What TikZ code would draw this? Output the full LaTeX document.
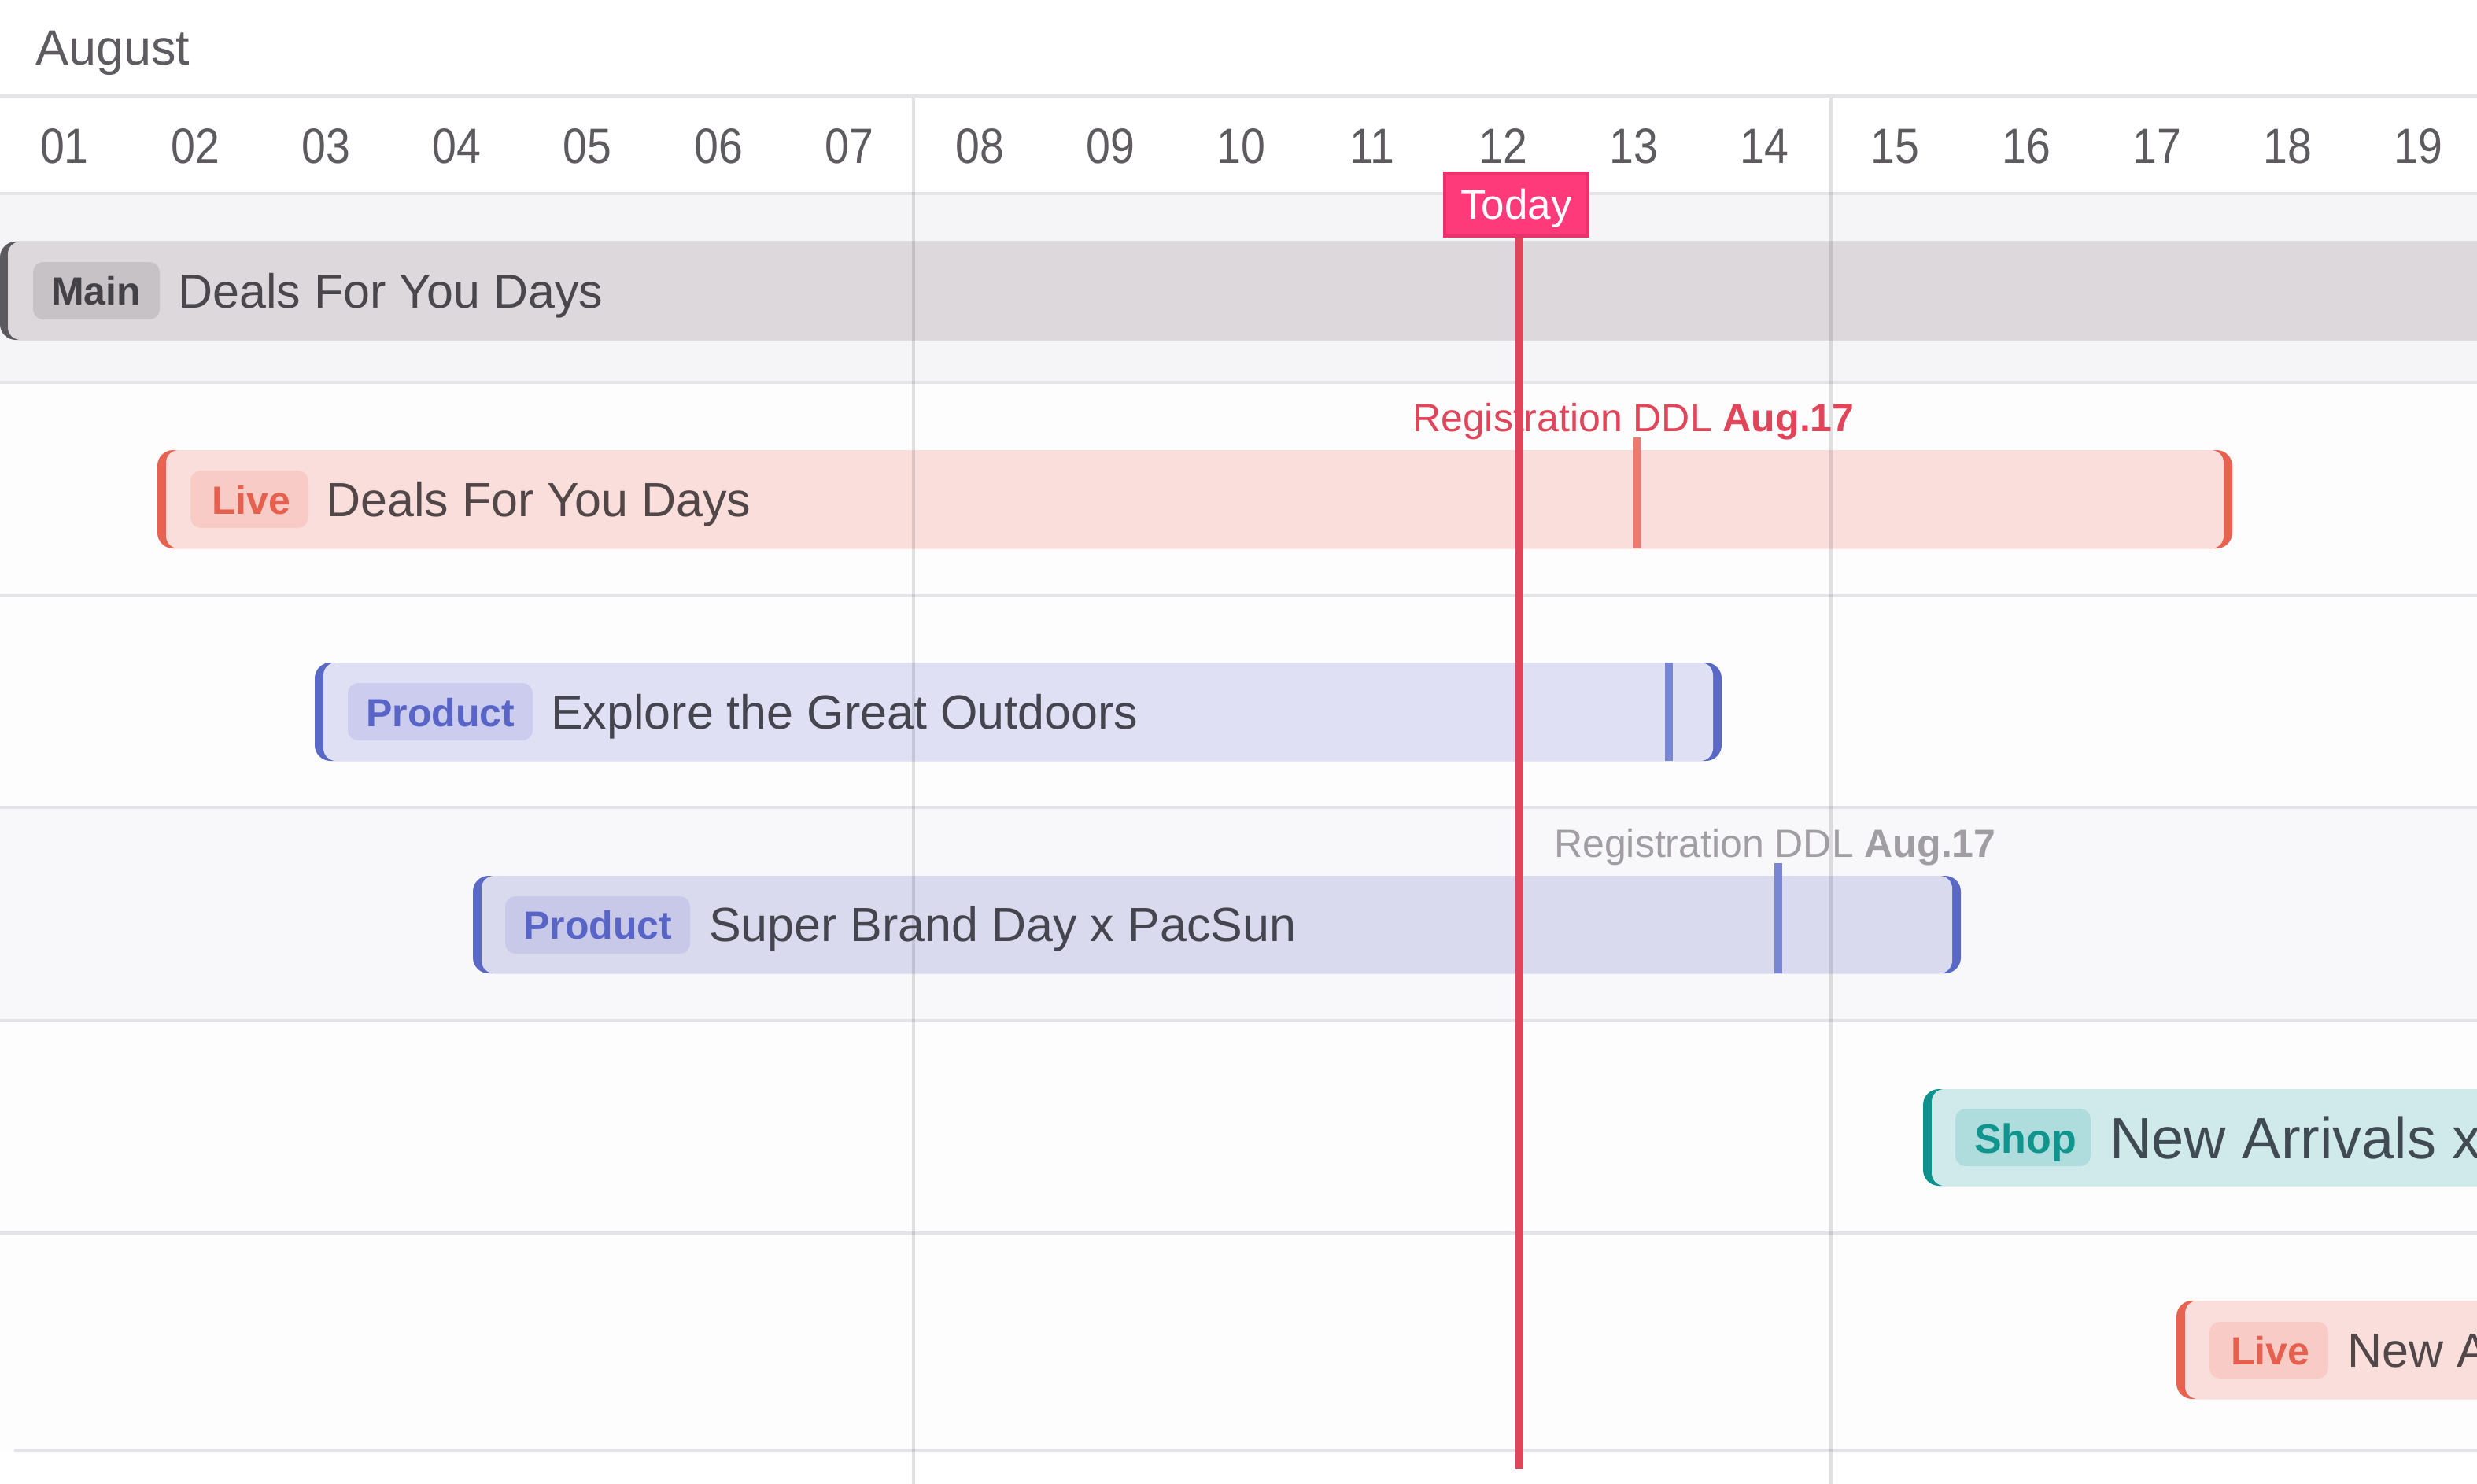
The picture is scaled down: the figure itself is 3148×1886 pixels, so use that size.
\documentclass[tikz,border=0pt]{standalone}
\usepackage{fontspec}
\setmainfont{Liberation Sans}
\newfontfamily\datefont[FakeStretch=0.88]{Liberation Sans}
\definecolor{rowA}{HTML}{F5F4F7}
\definecolor{rowB}{HTML}{F8F7FA}
\definecolor{rowW}{HTML}{FEFDFE}
\definecolor{lineC}{HTML}{E4E3E7}
\definecolor{vlineC}{HTML}{3A3540}
\definecolor{dateC}{HTML}{5D5B5F}
\definecolor{mainA}{HTML}{5B595D}
\definecolor{mainF}{HTML}{DCD8DC}
\definecolor{mainT}{HTML}{C6C2C6}
\definecolor{mainTT}{HTML}{444146}
\definecolor{mainTitle}{HTML}{4A474C}
\definecolor{liveA}{HTML}{E8634F}
\definecolor{liveF}{HTML}{FADEDC}
\definecolor{liveT}{HTML}{F8CBC7}
\definecolor{liveTT}{HTML}{E6604F}
\definecolor{liveTitle}{HTML}{524748}
\definecolor{prodA}{HTML}{5A69C6}
\definecolor{prodF}{HTML}{DFE0F4}
\definecolor{prodFb}{HTML}{D9DAEE}
\definecolor{prodT}{HTML}{CBCCEE}
\definecolor{prodTb}{HTML}{C8C9E8}
\definecolor{prodTT}{HTML}{5865C7}
\definecolor{prodTitle}{HTML}{45454F}
\definecolor{shopA}{HTML}{0E928E}
\definecolor{shopF}{HTML}{D0EAEC}
\definecolor{shopT}{HTML}{AFDDDE}
\definecolor{shopTT}{HTML}{10948E}
\definecolor{shopTitle}{HTML}{3F4A52}
\definecolor{todayF}{HTML}{FF3A7A}
\definecolor{todayB}{HTML}{E8336F}
\definecolor{todayL}{HTML}{E0465A}
\definecolor{ddlRed}{HTML}{E0455A}
\definecolor{ddlGray}{HTML}{A09EA3}
\definecolor{markRed}{HTML}{EC7B6E}
\definecolor{markBlue}{HTML}{7886D4}
\tikzset{
  hline/.style={draw=lineC, line width=4pt},
  vline/.style={draw=vlineC, draw opacity=0.15, line width=4pt},
  daynum/.style={anchor=base, inner sep=0, text=dateC, font=\datefont\fontsize{63}{72}\selectfont},
  bartitle/.style={anchor=base west, inner sep=0, font=\fontsize{61}{72}\selectfont},
  tagtext/.style={anchor=base west, inner sep=0, font=\fontsize{50}{60}\selectfont\bfseries},
  ddltext/.style={anchor=base west, inner sep=0, font=\fontsize{50}{60}\selectfont},
  outer/.style={rounded corners=20pt},
  inner/.style={rounded corners=16pt},
  tagbox/.style={rounded corners=13pt},
  marker/.style={line width=10pt},
}
\begin{document}
\begin{tikzpicture}[x=1pt,y=-1pt]
\useasboundingbox (0,0) rectangle (3148,1886);
\clip (0,0) rectangle (3148,1886);
\fill[white] (0,0) rectangle (3148,1886);
% row backgrounds
\fill[rowA] (0,248) rectangle (3148,486);
\fill[rowW] (0,486) rectangle (3148,1026);
\fill[rowB] (0,1026) rectangle (3148,1297);
\fill[rowW] (0,1297) rectangle (3148,1843);
% horizontal lines
\foreach \yy in {122,246,486,757,1026,1297,1567} \draw[hline] (0,\yy) -- (3148,\yy);
\draw[hline] (18,1843) -- (3148,1843);
% month and days
\node[anchor=base west, inner sep=0, text=dateC, font=\fontsize{63}{72}\selectfont] (month) at (45,83) {August};
\foreach \dd [count=\i from 0] in {01,02,03,04,05,06,07,08,09,10,11,12,13,14,15,16,17,18,19}
  \node[daynum] (day\dd) at ({82+166.2*\i},208) {\dd};
% row 1 : Main
\fill[mainA, outer] (0,307) rectangle (3300,432);
\fill[mainF, inner] (10,307) rectangle (3300,432);
\fill[mainT, tagbox] (42,333) rectangle (203,406);
\node[tagtext, text=mainTT] (tag1) at (65,387) {Main};
\node[bartitle, text=mainTitle] (title1) at (226,391) {Deals For You Days};
% row 2 : Live
\fill[liveA, outer] (200,572) rectangle (2837,697);
\fill[liveF, inner] (211,572) rectangle (2826,697);
\fill[liveT, tagbox] (242,598) rectangle (392,671);
\node[tagtext, text=liveTT] (tag2) at (269,653) {Live};
\node[bartitle, text=liveTitle] (title2) at (414,656) {Deals For You Days};
\draw[marker, markRed, line width=9pt] (2080,556) -- (2080,697);
\node[ddltext, text=ddlRed] (ddl2) at (1795,548) {Registration DDL \textbf{Aug.17}};
% row 3 : Product
\fill[prodA, outer] (400,842) rectangle (2188,967);
\fill[prodF, inner] (411,842) rectangle (2177,967);
\fill[prodT, tagbox] (442,868) rectangle (677,941);
\node[tagtext, text=prodTT] (tag3) at (465,923) {Product};
\node[bartitle, text=prodTitle] (title3) at (700,926) {Explore the Great Outdoors};
\draw[marker, markBlue] (2121,842) -- (2121,967);
% row 4 : Product
\fill[prodA, outer] (601,1113) rectangle (2492,1237);
\fill[prodFb, inner] (612,1113) rectangle (2481,1237);
\fill[prodTb, tagbox] (642,1139) rectangle (877,1212);
\node[tagtext, text=prodTT] (tag4) at (665,1193) {Product};
\node[bartitle, text=prodTitle] (title4) at (901,1196) {Super Brand Day x PacSun};
\draw[marker, markBlue] (2260,1097) -- (2260,1237);
\node[ddltext, text=ddlGray] (ddl4) at (1975,1089) {Registration DDL \textbf{Aug.17}};
% row 5 : Shop
\fill[shopA, outer] (2444,1384) rectangle (3300,1507);
\fill[shopF, inner] (2455,1384) rectangle (3300,1507);
\fill[shopT, tagbox] (2485,1409) rectangle (2657,1482);
\node[tagtext, text=shopTT, font=\fontsize{52}{60}\selectfont\bfseries] (tag5) at (2509,1465) {Shop};
\node[bartitle, text=shopTitle, font=\fontsize{74}{80}\selectfont] (title5) at (2681,1472) {New Arrivals x};
% row 6 : Live
\fill[liveA, outer] (2766,1653) rectangle (3300,1778);
\fill[liveF, inner] (2777,1653) rectangle (3300,1778);
\fill[liveT, tagbox] (2808,1680) rectangle (2959,1752);
\node[tagtext, text=liveTT] (tag6) at (2835,1734) {Live};
\node[bartitle, text=liveTitle] (title6) at (2983,1737) {New Arrivals};
% week separators
\draw[vline] (1161,124) -- (1161,1886);
\draw[vline] (2327,124) -- (2327,1886);
% today
\coordinate (todaytop) at (1931,300);
\coordinate (todayend) at (1931,1867);
\draw[todayL, line width=10pt] (todaytop) -- (todayend);
\draw[fill=todayF, draw=todayB, line width=4pt] (1836,220) rectangle (2018,300);
\node[anchor=base, inner sep=0, text=white, font=\fontsize{53}{60}\selectfont] (today) at (1927,279) {Today};
\end{tikzpicture}
\end{document}
